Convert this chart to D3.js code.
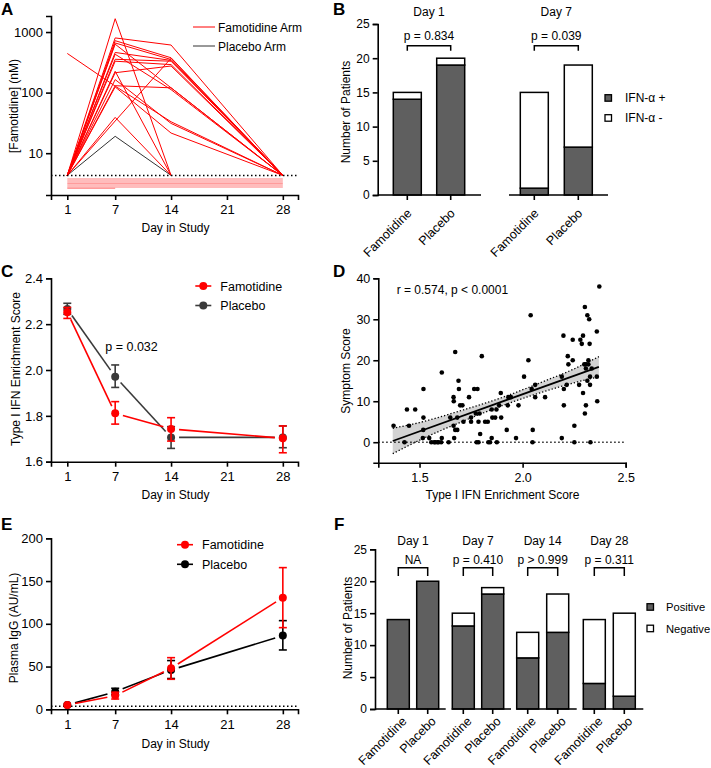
<!DOCTYPE html>
<html><head><meta charset="utf-8">
<script src="https://cdn.jsdelivr.net/npm/d3@7"></script>
<style>
body{margin:0;background:#fff}
svg{display:block;font-family:"Liberation Sans",Arial,sans-serif}
</style></head><body>
<svg id="fig" width="711" height="768"></svg>
<script>
// ================= DATA =================
const days = [1, 7, 14, 28];
const dayTicks = [1, 7, 14, 21, 28];

// Panel A: famotidine concentration (nM) per patient at days 1,7,14,28 (null = no sample)
const aLLOQ = 4.3;
const aYTicks = [10, 100, 1000];
const aFamotidine = [
  [4.3, 1660, 4.3, null],
  [4.3, 800, 610, 4.3],
  [4.3, 720, 376, 4.3],
  [4.3, 660, 352, 4.3],
  [4.3, 630, 120, 4.3],
  [4.3, 460, 340, 4.3],
  [4.3, 430, 112, 4.3],
  [4.3, 355, 330, 4.3],
  [4.3, 330, 290, 4.3],
  [4.3, 225, 4.3, null],
  [4.3, 213, 275, 4.3],
  [4.3, 164, 31, 4.3],
  [4.3, 130, 120, 4.3],
  [4.3, 124, 21.5, 4.3],
  [4.3, 39, 4.3, null],
  [4.3, 34, 370, 4.3],
  [443, 128, 33, 4.3]
];
const aPlacebo = [[4.3, 19, 4.3, null]];
const aBelowLong = [3.75, 3.47, 3.21, 2.98, 2.76];   // below LLOQ, day 1 - 28
const aBelowShort = [2.63];                          // below LLOQ, day 1 - 7
const aLegend = ["Famotidine Arm", "Placebo Arm"];

// Panel B
const bDays = ["Day 1", "Day 7"];
const bArms = ["Famotidine", "Placebo"];
const bPositive = [[14, 19], [1, 7]];
const bNegative = [[1, 1], [14, 12]];
const bPvalues = ["p = 0.834", "p = 0.039"];
const bLegend = ["IFN-α +", "IFN-α -"];
const bYTicks = [0, 5, 10, 15, 20, 25];

// Panel C
const cYTicks = [1.6, 1.8, 2.0, 2.2, 2.4];
const cFamMean = [2.252, 1.811, 1.743, 1.702];
const cFamLo   = [2.225, 1.764, 1.690, 1.639];
const cFamHi   = [2.273, 1.862, 1.792, 1.756];
const cPlaMean = [2.266, 1.971, 1.706, 1.706];
const cPlaLo   = [2.243, 1.924, 1.658, 1.661];
const cPlaHi   = [2.291, 2.022, 1.753, 1.756];
const cPvalue = "p = 0.032";

// Panel D
const dX = [1.374,1.427,1.439,1.449,1.479,1.519,1.519,1.518,1.516,1.547,1.557,1.571,1.576,1.587,1.592,1.608,1.608,1.605,1.641,1.649,1.665,1.666,1.665,1.668,1.673,1.673,1.683,1.689,1.691,1.683,1.697,1.708,1.713,1.74,1.75,1.75,1.765,1.781,1.773,1.777,1.786,1.791,1.794,1.802,1.786,1.818,1.831,1.834,1.842,1.85,1.85,1.853,1.867,1.875,1.873,1.886,1.894,1.896,1.923,1.928,1.931,1.943,1.968,1.98,2.007,2.028,2.039,2.044,2.049,2.048,2.061,2.061,2.109,2.19,2.198,2.19,2.2,2.2,2.214,2.219,2.222,2.243,2.243,2.251,2.251,2.274,2.28,2.287,2.293,2.293,2.299,2.302,2.302,2.307,2.307,2.314,2.314,2.319,2.323,2.327,2.325,2.327,2.329,2.335,2.36,2.36,2.362,2.372,2.319,2.305];
const dY = [4,0,8,4,8,13,6,3,1,1,0,0,0,0,0,1,17,0,0,6,11,10,4,1,22,3,6,15,13,3,9,9,5,11,6,5,13,13,7,0,0,7,2,21,5,5,5,0,0,1,8,6,6,0,8,9,12,6,3,9,11,11,1,9,16,20,31,13,3,0,14,11,11,16,26,1,13,9,14,21,19,25,20,4,0,14,25,24,26,12,19,33,7,9,18,31,15,20,30,16,24,14,0,18,27,16,10,38,19,19];
const dFitX = [1.37, 2.37];
const dFitY = [0.3, 18.4];
const dBandX  = [1.37, 1.5, 1.7, 1.9, 2.1, 2.25, 2.37];
const dBandLo = [-2.8, 0.5, 4.9, 8.9, 12.3, 14.5, 16.0];
const dBandHi = [3.4, 4.8, 7.7, 10.9, 14.8, 17.9, 20.9];
const dXTicks = [1.5, 2.0, 2.5];
const dYTicks = [0, 10, 20, 30, 40];
const dStat = "r = 0.574, p < 0.0001";

// Panel E
const eYTicks = [0, 50, 100, 150, 200];
const eFamMean = [5, 16, 48, 130.6];
const eFamLo   = [5, 12, 35.1, 95.5];
const eFamHi   = [5, 20, 60.4, 165.7];
const ePlaMean = [5, 20.5, 46, 86.2];
const ePlaLo   = [5, 17, 36, 69.4];
const ePlaHi   = [5, 24.6, 57, 103.7];
const eLLOQ = 3.5;

// Panel F
const fDays = ["Day 1", "Day 7", "Day 14", "Day 28"];
const fArms = ["Famotidine", "Placebo"];
const fPositive = [[14, 20], [13, 18], [8, 12], [4, 2]];
const fNegative = [[0, 0], [2, 1], [4, 6], [10, 13]];
const fPvalues = ["NA", "p = 0.410", "p > 0.999", "p = 0.311"];
const fLegend = ["Positive", "Negative"];
const fYTicks = [0, 5, 10, 15, 20, 25];

const seriesNames = ["Famotidine", "Placebo"];

// ================= HELPERS =================
const svg = d3.select("#fig");
const RED = "#ff0000", GRAYBAR = "#5f5f5f";
const AXW = 1.6;

function styleAxis(g, fs = 12) {
  g.attr("font-size", fs).attr("font-family", null);
  g.selectAll("path,line").attr("stroke", "#000").attr("stroke-width", AXW);
  g.selectAll("text").attr("fill", "#000");
  return g;
}
function txt(x, y, s, o = {}) {
  const t = svg.append("text").attr("x", x).attr("y", y).text(s)
    .attr("font-size", o.size || 12).attr("fill", o.fill || "#000")
    .attr("text-anchor", o.anchor || "start");
  if (o.weight) t.attr("font-weight", o.weight);
  if (o.rotate) t.attr("transform", `rotate(${o.rotate},${x},${y})`);
  return t;
}
function panelLetter(x, y, s) { txt(x, y, s, {size: 17, weight: "bold"}); }
function yLabel(cx, cy, s) { txt(cx + 4, cy, s, {anchor: "middle", rotate: -90}); }

// ================= PANEL A =================
const xDay = d3.scaleLinear().domain([-1.04, 29.9]).range([51, 298]);
const yA = d3.scaleLog().domain([2.04, 1840]).range([195, 16]);
const lineA = d3.line().x(d => xDay(d[0])).y(d => yA(d[1]));

function trajPts(t) { return days.map((d, i) => [d, t[i]]).filter(p => p[1] != null); }

aBelowLong.forEach(v => svg.append("path").attr("d", lineA([[1, v], [28, v]]))
  .attr("fill", "none").attr("stroke", "#ff7a7a").attr("stroke-width", 1.1));
aBelowShort.forEach(v => svg.append("path").attr("d", lineA([[1, v], [7, v]]))
  .attr("fill", "none").attr("stroke", "#ff7a7a").attr("stroke-width", 1.1));
aPlacebo.forEach(t => svg.append("path").attr("d", lineA(trajPts(t)))
  .attr("fill", "none").attr("stroke", "#333").attr("stroke-width", 1));
aFamotidine.forEach(t => svg.append("path").attr("d", lineA(trajPts(t)))
  .attr("fill", "none").attr("stroke", RED).attr("stroke-width", 1));
svg.append("line").attr("x1", 51).attr("x2", 298).attr("y1", yA(aLLOQ)).attr("y2", yA(aLLOQ))
  .attr("stroke", "#000").attr("stroke-width", 1.5).attr("stroke-dasharray", "1.5,2.5");

styleAxis(svg.append("g").attr("transform", "translate(0,195)")
  .call(d3.axisBottom(xDay).tickValues(dayTicks).tickSizeOuter(0).tickSize(5).tickPadding(5)), 13);
styleAxis(svg.append("g").attr("transform", "translate(51,0)")
  .call(d3.axisLeft(yA).tickValues(aYTicks).tickFormat(d3.format("d")).tickSizeOuter(0).tickSize(5).tickPadding(3)), 13);
yLabel(14, 106, "[Famotidine] (nM)");
txt(175.5, 232, "Day in Study", {anchor: "middle"});
panelLetter(1, 15, "A");
[RED, "#333"].forEach((c, i) => {
  const y = 27 + i * 19;
  svg.append("line").attr("x1", 193).attr("x2", 215).attr("y1", y).attr("y2", y).attr("stroke", c).attr("stroke-width", 1);
  txt(218, y + 4.5, aLegend[i]);
});

// ================= STACKED BAR PANELS =================
function stackedPanel(cfg) {
  const y = d3.scaleLinear().domain([0, 25]).range([cfg.y0, cfg.y1]);
  styleAxis(svg.append("g").attr("transform", `translate(${cfg.axisX},0)`)
    .call(d3.axisLeft(y).tickValues(cfg.yTicks).tickSizeOuter(0).tickSize(5).tickPadding(3)));
  cfg.groups.forEach((gname, gi) => {
    const xp = d3.scalePoint().domain(cfg.arms).range(cfg.groupRanges[gi]).padding(0.5);
    const [ax0, ax1] = cfg.axisLines[gi];
    cfg.arms.forEach((a, ai) => {
      const p = cfg.pos[gi][ai], n = cfg.neg[gi][ai];
      const cx = xp(a), w = cfg.barW;
      svg.append("rect").attr("x", cx - w / 2).attr("width", w)
        .attr("y", y(p)).attr("height", y(0) - y(p))
        .attr("fill", GRAYBAR).attr("stroke", "#000").attr("stroke-width", 1.5);
      if (n > 0) svg.append("rect").attr("x", cx - w / 2).attr("width", w)
        .attr("y", y(p + n)).attr("height", y(p) - y(p + n))
        .attr("fill", "#fff").attr("stroke", "#000").attr("stroke-width", 1.5);
      svg.append("line").attr("x1", cx).attr("x2", cx).attr("y1", cfg.y0).attr("y2", cfg.y0 + 5)
        .attr("stroke", "#000").attr("stroke-width", AXW);
      txt(cx + cfg.lblDx, cfg.y0 + cfg.lblDy, a, {anchor: "end", rotate: -45, size: 12.5});
    });
    svg.append("line").attr("x1", ax0).attr("x2", ax1).attr("y1", cfg.y0).attr("y2", cfg.y0)
      .attr("stroke", "#000").attr("stroke-width", AXW);
    const c0 = xp(cfg.arms[0]), c1 = xp(cfg.arms[1]), mid = (c0 + c1) / 2;
    txt(mid, cfg.titleY, gname, {anchor: "middle"});
    txt(mid, cfg.pY, cfg.pvals[gi], {anchor: "middle"});
    svg.append("path").attr("d", `M${c0},${cfg.brY1}V${cfg.brY0}H${c1}V${cfg.brY1}`)
      .attr("fill", "none").attr("stroke", "#000").attr("stroke-width", 1.5);
  });
  cfg.legend.forEach((s, i) => {
    const ly = cfg.legY + i * cfg.legStep;
    svg.append("rect").attr("x", cfg.legX).attr("y", ly - 3.3).attr("width", 6.5).attr("height", 6.5)
      .attr("fill", i === 0 ? GRAYBAR : "#fff").attr("stroke", "#000").attr("stroke-width", 1.3);
    txt(cfg.legX + cfg.legTx, ly + 4.2, s, {size: cfg.legFs});
  });
}

stackedPanel({
  y0: 195, y1: 24, axisX: 377.7, yTicks: bYTicks, groups: bDays, arms: bArms,
  groupRanges: [[385.6, 472.4], [512.3, 600.3]], axisLines: [[377.7, 481], [509, 608]],
  barW: 28, pos: bPositive, neg: bNegative, pvals: bPvalues,
  titleY: 16, pY: 40, brY0: 45.7, brY1: 50.7, lblDx: 5, lblDy: 19,
  legend: bLegend, legX: 605, legY: 98, legStep: 20, legTx: 20, legFs: 12
});
yLabel(345.5, 112, "Number of Patients");
panelLetter(333, 15, "B");

stackedPanel({
  y0: 709, y1: 549.3, axisX: 375, yTicks: fYTicks, groups: fDays, arms: fArms,
  groupRanges: [[383.6, 442.4], [448.6, 507.4], [512.7, 572.7], [579.3, 639.3]],
  axisLines: [[375, 445.7], [451.7, 511], [516.3, 576.7], [582.7, 643.3]],
  barW: 22, pos: fPositive, neg: fNegative, pvals: fPvalues,
  titleY: 545, pY: 563.5, brY0: 567.7, brY1: 576, lblDx: 9, lblDy: 13,
  legend: fLegend, legX: 647, legY: 607, legStep: 21.5, legTx: 19, legFs: 11.2
});
yLabel(348, 628, "Number of Patients");
panelLetter(334, 529.5, "F");

// ================= MEAN +/- ERROR PANELS =================
function meanPanel(cfg) {
  const y = cfg.y;
  if (cfg.lloq != null) svg.append("line").attr("x1", 51).attr("x2", 298)
    .attr("y1", y(cfg.lloq)).attr("y2", y(cfg.lloq))
    .attr("stroke", "#000").attr("stroke-width", 1.5).attr("stroke-dasharray", "1.5,2.5");
  cfg.series.forEach(s => {
    const pts = days.map((d, i) => [xDay(d), y(s.mean[i])]);
    for (let i = 0; i < pts.length - 1; i++) {
      const [x1, y1] = pts[i], [x2, y2] = pts[i + 1];
      const L = Math.hypot(x2 - x1, y2 - y1), ux = (x2 - x1) / L, uy = (y2 - y1) / L, g = 8;
      svg.append("line").attr("x1", x1 + ux * g).attr("y1", y1 + uy * g)
        .attr("x2", x2 - ux * g).attr("y2", y2 - uy * g)
        .attr("stroke", s.color).attr("stroke-width", 1.6);
    }
    days.forEach((d, i) => {
      const cx = xDay(d), lo = y(s.lo[i]), hi = y(s.hi[i]);
      if (Math.abs(lo - hi) > 1) {
        svg.append("line").attr("x1", cx).attr("x2", cx).attr("y1", lo).attr("y2", hi).attr("stroke", s.color).attr("stroke-width", 1.6);
        [lo, hi].forEach(yy => svg.append("line").attr("x1", cx - 4).attr("x2", cx + 4).attr("y1", yy).attr("y2", yy).attr("stroke", s.color).attr("stroke-width", 1.6));
      }
      svg.append("circle").attr("cx", cx).attr("cy", y(s.mean[i])).attr("r", 4).attr("fill", s.color);
    });
  });
  styleAxis(svg.append("g").attr("transform", `translate(0,${cfg.axisY})`)
    .call(d3.axisBottom(xDay).tickValues(dayTicks).tickSizeOuter(0).tickSize(5).tickPadding(5)), 13);
  styleAxis(svg.append("g").attr("transform", "translate(51,0)")
    .call(d3.axisLeft(y).tickValues(cfg.yTicks).tickFormat(cfg.fmt).tickSizeOuter(0).tickSize(5).tickPadding(3)), 13);
  cfg.legendOrder.forEach((s, i) => {
    const ly = cfg.legY + i * cfg.legStep;
    svg.append("line").attr("x1", cfg.legX - 8).attr("x2", cfg.legX + 8).attr("y1", ly).attr("y2", ly)
      .attr("stroke", s.color).attr("stroke-width", 1.6);
    svg.append("circle").attr("cx", cfg.legX).attr("cy", ly).attr("r", 4).attr("fill", s.color);
    txt(cfg.legX + 17, ly + 4.5, s.name, {size: 12.5});
  });
}

const yC = d3.scaleLinear().domain([1.6, 2.4]).range([461.7, 278.3]);
const cFam = {name: seriesNames[0], color: RED, mean: cFamMean, lo: cFamLo, hi: cFamHi};
const cPla = {name: seriesNames[1], color: "#3a3a3a", mean: cPlaMean, lo: cPlaLo, hi: cPlaHi};
meanPanel({y: yC, axisY: 461.7, yTicks: cYTicks, fmt: d3.format(".1f"),
  series: [cPla, cFam], legendOrder: [cFam, cPla], legX: 203.3, legY: 286, legStep: 19.5});
txt(105.3, 351, cPvalue, {size: 12.5});
yLabel(15.5, 369, "Type I IFN Enrichment Score");
txt(175.5, 499, "Day in Study", {anchor: "middle"});
panelLetter(1, 277, "C");

const yE = d3.scaleLinear().domain([0, 200]).range([709.3, 538.3]);
const eFam = {name: seriesNames[0], color: RED, mean: eFamMean, lo: eFamLo, hi: eFamHi};
const ePla = {name: seriesNames[1], color: "#000", mean: ePlaMean, lo: ePlaLo, hi: ePlaHi};
meanPanel({y: yE, axisY: 709.3, yTicks: eYTicks, fmt: d3.format("d"), lloq: eLLOQ,
  series: [ePla, eFam], legendOrder: [eFam, ePla], legX: 185, legY: 544.7, legStep: 19.6});
yLabel(14, 628, "Plasma IgG (AU/mL)");
txt(175.5, 747.5, "Day in Study", {anchor: "middle"});
panelLetter(1, 529.5, "E");

// ================= PANEL D =================
const xD = d3.scaleLinear().domain([1.3, 2.5]).range([378.3, 625.7]);
const yD = d3.scaleLinear().domain([-5, 40]).range([462.7, 278.3]);
const band = dBandX.map((x, i) => [x, dBandLo[i], dBandHi[i]]);
svg.append("path").attr("d", d3.area().x(d => xD(d[0])).y0(d => yD(d[1])).y1(d => yD(d[2])).curve(d3.curveMonotoneX)(band))
  .attr("fill", "#d3d3d3");
[1, 2].forEach(k => svg.append("path")
  .attr("d", d3.line().x(d => xD(d[0])).y(d => yD(d[k])).curve(d3.curveMonotoneX)(band))
  .attr("fill", "none").attr("stroke", "#000").attr("stroke-width", 1.3).attr("stroke-dasharray", "1.3,2"));
svg.append("line").attr("x1", xD(1.3)).attr("x2", xD(2.5)).attr("y1", yD(0)).attr("y2", yD(0))
  .attr("stroke", "#000").attr("stroke-width", 1.4).attr("stroke-dasharray", "1.3,2.7");
svg.append("path").attr("d", d3.line().x(d => xD(d[0])).y(d => yD(d[1]))(dFitX.map((x, i) => [x, dFitY[i]])))
  .attr("stroke", "#000").attr("stroke-width", 1.8);
dX.forEach((x, i) => svg.append("circle").attr("cx", xD(x)).attr("cy", yD(dY[i])).attr("r", 2.3).attr("fill", "#000"));
styleAxis(svg.append("g").attr("transform", "translate(0,462.7)")
  .call(d3.axisBottom(xD).tickValues(dXTicks).tickFormat(d3.format(".1f")).tickSizeOuter(0).tickSize(5).tickPadding(5)), 12.5);
styleAxis(svg.append("g").attr("transform", "translate(378.3,0)")
  .call(d3.axisLeft(yD).tickValues(dYTicks).tickSizeOuter(0).tickSize(5).tickPadding(3)), 12.5);
txt(396.7, 294, dStat);
yLabel(346, 371, "Symptom Score");
txt(502.5, 499, "Type I IFN Enrichment Score", {anchor: "middle"});
panelLetter(333, 277, "D");
</script>
</body></html>
